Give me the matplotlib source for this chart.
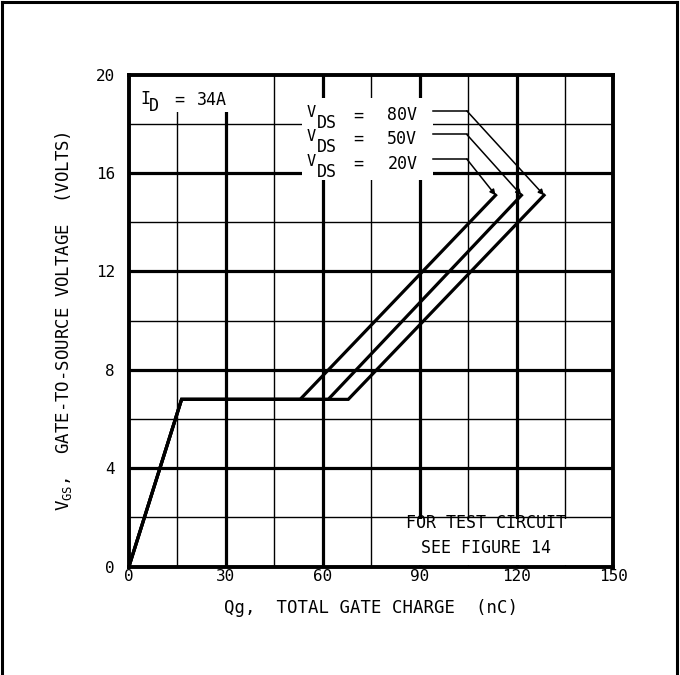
import matplotlib
matplotlib.use("Agg")
import matplotlib.pyplot as plt
from matplotlib.patches import Rectangle
from matplotlib.lines import Line2D

plt.rcParams['font.family'] = ['DejaVu Sans Mono', 'DejaVu Sans']
plt.rcParams['mathtext.fontset'] = 'dejavusans'

# ---- data ----
vds_labels = ['80V', '50V', '20V']
q_20v = [0, 16.3, 53.0, 113.5]
v_20v = [0, 6.8, 6.8, 15.1]
q_50v = [0, 16.3, 61.7, 121.5]
v_50v = [0, 6.8, 6.8, 15.1]
q_80v = [0, 16.3, 67.9, 128.5]
v_80v = [0, 6.8, 6.8, 15.1]

x_ticks = [0, 30, 60, 90, 120, 150]
y_ticks = [0, 4, 8, 12, 16, 20]
x_minor = [15, 45, 75, 105, 135]
y_minor = [2, 6, 10, 14, 18]

# legend leader lines: label y, horizontal start/end x, tip (x, y)
leader_y = [18.53, 17.57, 16.57]
leader_x0 = 94.0
leader_x1 = 104.6
leader_tip_x = [128.5, 121.5, 113.5]
leader_tip_y = 15.1

fig = plt.figure(figsize=(6.8, 6.75), dpi=100)
ax = fig.add_axes([0.1896, 0.1606, 0.7126, 0.7287])
ax.set_xlim(0, 150)
ax.set_ylim(0, 20)

# grid
for x in x_ticks[1:-1]:
    ax.axvline(x, color='black', lw=2.3, zorder=1)
for y in y_ticks[1:-1]:
    ax.axhline(y, color='black', lw=2.3, zorder=1)
for x in x_minor:
    ax.axvline(x, color='black', lw=1.0, zorder=1)
for y in y_minor:
    ax.axhline(y, color='black', lw=1.0, zorder=1)

# white boxes behind annotation texts
ax.add_patch(Rectangle((0.5, 18.5), 38, 1.45, facecolor='white', edgecolor='none', zorder=2))
ax.add_patch(Rectangle((53.5, 15.7), 40.5, 3.35, facecolor='white', edgecolor='none', zorder=2))
ax.add_patch(Rectangle((82.4, 0.05), 67.5, 1.9, facecolor='white', edgecolor='none', zorder=2))

# curves
for q, v in [(q_20v, v_20v), (q_50v, v_50v), (q_80v, v_80v)]:
    ax.plot(q, v, color='black', lw=2.3, zorder=4, solid_joinstyle='miter')

fs = 12
# legend labels and leader lines
for lab, ly, tx in zip(vds_labels, leader_y, leader_tip_x):
    ty = ly - 0.18
    ax.text(55.0, ty + 0.1, 'V', fontsize=fs - 1, va='center', ha='left', zorder=5)
    ax.text(58.3, ty - 0.33, 'DS', fontsize=fs, va='center', ha='left', zorder=5)
    ax.text(69.5, ty, '=', fontsize=fs, va='center', ha='left', zorder=5)
    ax.text(80.0, ty, lab, fontsize=fs, va='center', ha='left', zorder=5)
    ax.plot([leader_x0, leader_x1], [ly, ly], color='black', lw=1.1, zorder=5)
    ax.annotate('', xy=(tx, leader_tip_y), xytext=(leader_x1, ly),
                arrowprops=dict(arrowstyle='-|>', color='black', lw=1.1,
                                mutation_scale=8, shrinkA=0, shrinkB=0),
                zorder=5)

ax.text(3.4, 19.03, 'I', fontsize=fs, va='center', ha='left', zorder=5)
ax.text(6.3, 18.73, 'D', fontsize=fs, va='center', ha='left', zorder=5)
ax.text(14.0, 18.97, '=', fontsize=fs, va='center', ha='left', zorder=5)
ax.text(21.0, 18.97, '34A', fontsize=fs, va='center', ha='left', zorder=5)
ax.text(110.4, 1.77, 'FOR TEST CIRCUIT', fontsize=fs, va='center', ha='center', zorder=5)
ax.text(110.4, 0.76, 'SEE FIGURE 14', fontsize=fs, va='center', ha='center', zorder=5)

# axes styling
for s in ax.spines.values():
    s.set_linewidth(2.8)
    s.set_zorder(6)
ax.set_xticks(x_ticks)
ax.set_yticks(y_ticks)
ax.set_xticklabels([str(t) for t in x_ticks])
ax.set_yticklabels([str(t) for t in y_ticks])
ax.tick_params(axis='both', length=0, labelsize=11.5)
ax.tick_params(axis='y', pad=10)
ax.tick_params(axis='x', pad=2)

ax.set_xlabel('Qg,  TOTAL GATE CHARGE  (nC)', fontsize=12.5)
ax.xaxis.set_label_coords(0.5, -0.084)
ax.xaxis.label.set_va('center')
ax.set_ylabel(r'$\mathtt{V_{GS}}$,  GATE-TO-SOURCE VOLTAGE  (VOLTS)', fontsize=12.5)
ax.yaxis.set_label_coords(-0.136, 0.5)
ax.yaxis.label.set_va('center')

# figure frame
lw = 2.2
fig.add_artist(Line2D([2 / 680, 2 / 680], [0, 1 - 2 / 675], transform=fig.transFigure, color='black', lw=lw))
fig.add_artist(Line2D([2 / 680, 1 - 3 / 680], [1 - 2 / 675, 1 - 2 / 675], transform=fig.transFigure, color='black', lw=lw))
fig.add_artist(Line2D([1 - 3 / 680, 1 - 3 / 680], [0, 1 - 2 / 675], transform=fig.transFigure, color='black', lw=lw))

fig.savefig('out.png', dpi=100, facecolor='white')
